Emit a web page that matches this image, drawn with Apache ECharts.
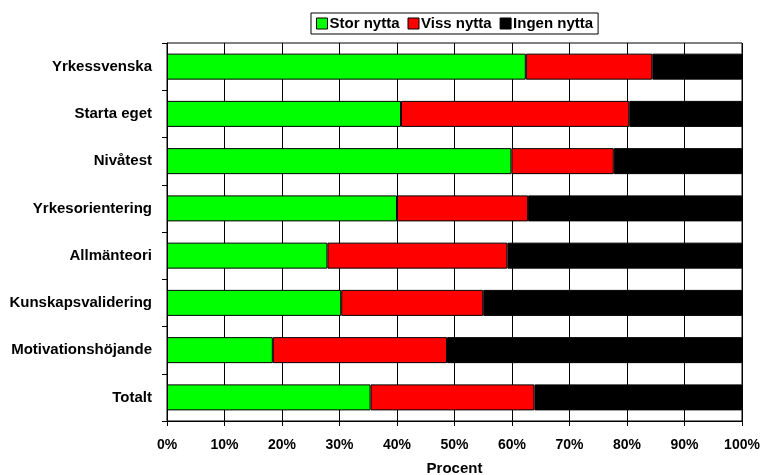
<!DOCTYPE html>
<html>
<head>
<meta charset="utf-8">
<script src="https://cdn.jsdelivr.net/npm/echarts@6/dist/echarts.min.js"></script>
</head>
<body style="margin:0">
<div id="main" style="width: 760px;height:475px;"></div>

<script type="text/javascript">
var kategorier = ['Yrkessvenska', 'Starta eget', 'Nivåtest', 'Yrkesorientering',
    'Allmänteori', 'Kunskapsvalidering', 'Motivationshöjande', 'Totalt'];
var storNytta  = [62.4, 40.7, 59.9, 40.0, 27.9, 30.3, 18.4, 35.4];
var vissNytta  = [22.0, 39.7, 17.8, 22.8, 31.3, 24.7, 30.3, 28.5];
var ingenNytta = [15.6, 19.6, 22.3, 37.2, 40.8, 45.0, 51.3, 36.1];

var font = 'Liberation Sans, Arial, sans-serif';

function serie(namn, data, farg) {
    return {
        name: namn,
        type: 'bar',
        stack: 'alla',
        barWidth: 26,
        data: data,
        itemStyle: { color: farg, borderColor: '#000', borderWidth: 1 }
    };
}

var option = {
    animation: false,
    textStyle: { fontFamily: font },
    legend: {
        top: 13,
        left: 311,
        icon: 'rect',
        itemWidth: 11,
        itemHeight: 11,
        itemGap: 8,
        padding: [3, 5],
        backgroundColor: '#fff',
        borderColor: '#000',
        borderWidth: 1,
        itemStyle: { borderColor: '#000', borderWidth: 1 },
        textStyle: { fontSize: 15, fontWeight: 'bold', color: '#000', fontFamily: font, padding: [0, 0, 0, -3] },
        data: ['Stor nytta', 'Viss nytta', 'Ingen nytta']
    },
    grid: {
        left: 167, right: 18, top: 43, bottom: 54,
        outerBoundsMode: 'none',
        containLabel: false,
        show: true, borderColor: '#000', borderWidth: 1
    },
    xAxis: {
        type: 'value',
        min: 0, max: 100, interval: 10,
        name: 'Procent',
        nameLocation: 'middle',
        nameGap: 40,
        nameTextStyle: { fontSize: 15, fontWeight: 'bold', color: '#000', fontFamily: font },
        axisLine: { show: true, lineStyle: { color: '#000', width: 1 } },
        axisTick: { show: true, length: 5, lineStyle: { color: '#000' } },
        axisLabel: { formatter: '{value}%', fontSize: 14, fontWeight: 'bold', color: '#000', margin: 17, fontFamily: font },
        splitLine: { show: true, lineStyle: { color: '#000', width: 1 } }
    },
    yAxis: {
        type: 'category',
        inverse: true,
        data: kategorier,
        axisLine: { show: true, lineStyle: { color: '#000', width: 1 } },
        axisTick: { show: true, length: 5, lineStyle: { color: '#000' } },
        axisLabel: { fontSize: 15, fontWeight: 'bold', color: '#000', margin: 15, fontFamily: font }
    },
    series: [
        serie('Stor nytta', storNytta, '#00ff00'),
        serie('Viss nytta', vissNytta, '#ff0000'),
        serie('Ingen nytta', ingenNytta, '#000000')
    ]
};

var myChart = echarts.init(document.getElementById('main'));
myChart.setOption(option);
</script>
</body>
</html>
